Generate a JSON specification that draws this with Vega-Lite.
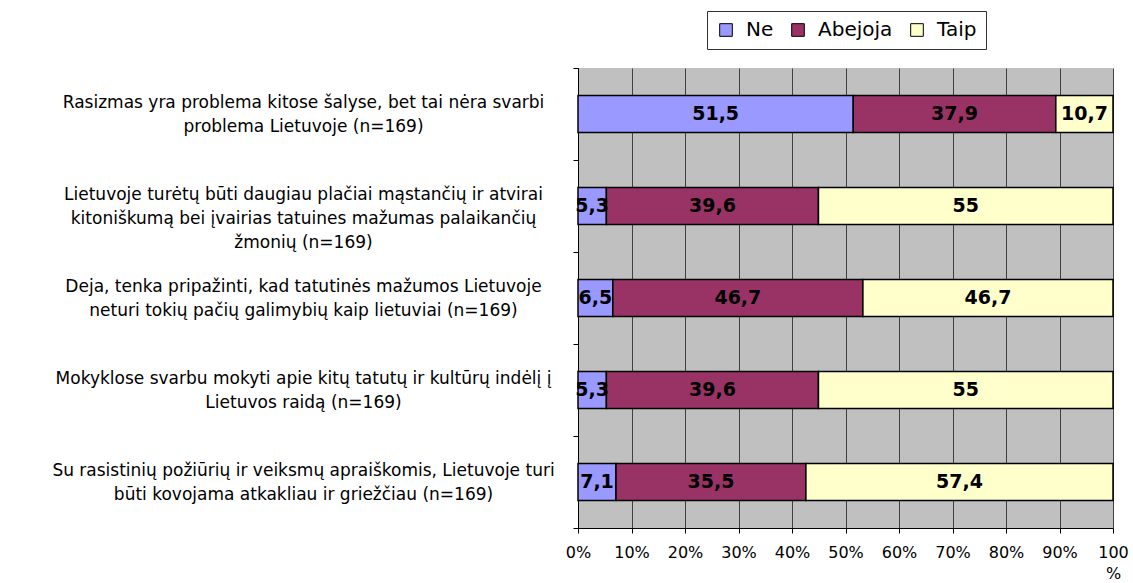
{
  "$schema": "https://vega.github.io/schema/vega-lite/v6.json",
  "width": 535,
  "height": 460,
  "autosize": {"type": "none"},
  "padding": {"left": 578, "top": 68, "right": 20, "bottom": 55},
  "background": "white",
  "data": {
    "values": [
      {"question": "Rasizmas yra problema kitose šalyse, bet tai nėra svarbi|problema Lietuvoje (n=169)", "cat": "Ne", "value": 51.5},
      {"question": "Rasizmas yra problema kitose šalyse, bet tai nėra svarbi|problema Lietuvoje (n=169)", "cat": "Abejoja", "value": 37.9},
      {"question": "Rasizmas yra problema kitose šalyse, bet tai nėra svarbi|problema Lietuvoje (n=169)", "cat": "Taip", "value": 10.7},
      {"question": "Lietuvoje turėtų būti daugiau plačiai mąstančių ir atvirai|kitoniškumą bei įvairias tatuines mažumas palaikančių|žmonių (n=169)", "cat": "Ne", "value": 5.3},
      {"question": "Lietuvoje turėtų būti daugiau plačiai mąstančių ir atvirai|kitoniškumą bei įvairias tatuines mažumas palaikančių|žmonių (n=169)", "cat": "Abejoja", "value": 39.6},
      {"question": "Lietuvoje turėtų būti daugiau plačiai mąstančių ir atvirai|kitoniškumą bei įvairias tatuines mažumas palaikančių|žmonių (n=169)", "cat": "Taip", "value": 55},
      {"question": "Deja, tenka pripažinti, kad tatutinės mažumos Lietuvoje|neturi tokių pačių galimybių kaip lietuviai (n=169)", "cat": "Ne", "value": 6.5},
      {"question": "Deja, tenka pripažinti, kad tatutinės mažumos Lietuvoje|neturi tokių pačių galimybių kaip lietuviai (n=169)", "cat": "Abejoja", "value": 46.7},
      {"question": "Deja, tenka pripažinti, kad tatutinės mažumos Lietuvoje|neturi tokių pačių galimybių kaip lietuviai (n=169)", "cat": "Taip", "value": 46.7},
      {"question": "Mokyklose svarbu mokyti apie kitų tatutų ir kultūrų indėlį į|Lietuvos raidą (n=169)", "cat": "Ne", "value": 5.3},
      {"question": "Mokyklose svarbu mokyti apie kitų tatutų ir kultūrų indėlį į|Lietuvos raidą (n=169)", "cat": "Abejoja", "value": 39.6},
      {"question": "Mokyklose svarbu mokyti apie kitų tatutų ir kultūrų indėlį į|Lietuvos raidą (n=169)", "cat": "Taip", "value": 55},
      {"question": "Su rasistinių požiūrių ir veiksmų apraiškomis, Lietuvoje turi|būti kovojama atkakliau ir griežčiau (n=169)", "cat": "Ne", "value": 7.1},
      {"question": "Su rasistinių požiūrių ir veiksmų apraiškomis, Lietuvoje turi|būti kovojama atkakliau ir griežčiau (n=169)", "cat": "Abejoja", "value": 35.5},
      {"question": "Su rasistinių požiūrių ir veiksmų apraiškomis, Lietuvoje turi|būti kovojama atkakliau ir griežčiau (n=169)", "cat": "Taip", "value": 57.4}
    ]
  },
  "transform": [
    {"calculate": "indexof(['Ne','Abejoja','Taip'], datum.cat)", "as": "ord"},
    {"stack": "value", "groupby": ["question"], "sort": [{"field": "ord", "order": "ascending"}], "offset": "normalize", "as": ["v0", "v1"]},
    {"calculate": "(datum.v0 + datum.v1) / 2", "as": "mid"}
  ],
  "encoding": {
    "y": {
      "field": "question",
      "type": "nominal",
      "sort": [
        "Rasizmas yra problema kitose šalyse, bet tai nėra svarbi|problema Lietuvoje (n=169)",
        "Lietuvoje turėtų būti daugiau plačiai mąstančių ir atvirai|kitoniškumą bei įvairias tatuines mažumas palaikančių|žmonių (n=169)",
        "Deja, tenka pripažinti, kad tatutinės mažumos Lietuvoje|neturi tokių pačių galimybių kaip lietuviai (n=169)",
        "Mokyklose svarbu mokyti apie kitų tatutų ir kultūrų indėlį į|Lietuvos raidą (n=169)",
        "Su rasistinių požiūrių ir veiksmų apraiškomis, Lietuvoje turi|būti kovojama atkakliau ir griežčiau (n=169)"
      ],
      "scale": {"paddingInner": 0, "paddingOuter": 0},
      "axis": {
        "title": null,
        "grid": false,
        "labelExpr": "split(datum.label, '|')",
        "labelFont": "DejaVu Sans",
        "labelFontSize": 17,
        "labelColor": "black",
        "labelAlign": "center",
        "labelBaseline": "line-bottom",
        "labelPadding": 270,
        "labelLimit": 1000,
        "labelLineHeight": 24,
        "tickBand": "extent",
        "tickSize": 5,
        "tickColor": "black",
        "domainColor": "black",
        "labelOverlap": false
      }
    }
  },
  "layer": [
    {
      "mark": {"type": "bar", "height": {"band": 0.4}, "stroke": "black", "strokeWidth": 1.5},
      "encoding": {
        "x": {
          "field": "v0",
          "type": "quantitative",
          "scale": {"domain": [0, 1], "nice": false},
          "axis": {
            "title": null,
            "values": [0, 0.1, 0.2, 0.3, 0.4, 0.5, 0.6, 0.7, 0.8, 0.9, 1],
            "format": ".0%",
            "labelExpr": "datum.value >= 0.999 ? ['100', '%'] : datum.label",
            "grid": true,
            "gridColor": "#404040",
            "gridWidth": 1,
            "gridOpacity": 1,
            "tickColor": "black",
            "tickSize": 5,
            "domainColor": "black",
            "labelFont": "DejaVu Sans",
            "labelFontSize": 16,
            "labelColor": "black",
            "labelPadding": 11,
            "labelLineHeight": 21,
            "labelFlush": false,
            "labelOverlap": false
          }
        },
        "x2": {"field": "v1"},
        "color": {
          "field": "cat",
          "type": "nominal",
          "scale": {"domain": ["Ne", "Abejoja", "Taip"], "range": ["#9999FF", "#993366", "#FFFFCC"]},
          "legend": {
            "title": null,
            "orient": "none",
            "legendX": 129,
            "legendY": -57,
            "direction": "horizontal",
            "strokeColor": "#333333",
            "fillColor": "white",
            "padding": 9,
            "symbolType": "square",
            "symbolSize": 160,
            "symbolStrokeColor": "black",
            "symbolStrokeWidth": 1,
            "symbolOpacity": 1,
            "labelFont": "DejaVu Sans",
            "labelFontSize": 20,
            "labelColor": "black",
            "labelOffset": 10,
            "columnPadding": 14
          }
        }
      }
    },
    {
      "mark": {"type": "text", "font": "DejaVu Sans", "fontWeight": "bold", "fontSize": 19, "color": "black", "baseline": "middle", "align": "center"},
      "encoding": {
        "x": {"field": "mid", "type": "quantitative"},
        "text": {"field": "value", "type": "quantitative", "format": ".3~r"}
      }
    }
  ],
  "config": {
    "locale": {"number": {"decimal": ",", "thousands": " ", "grouping": [3], "currency": ["", ""]}},
    "view": {"fill": "#C0C0C0", "stroke": null}
  }
}
